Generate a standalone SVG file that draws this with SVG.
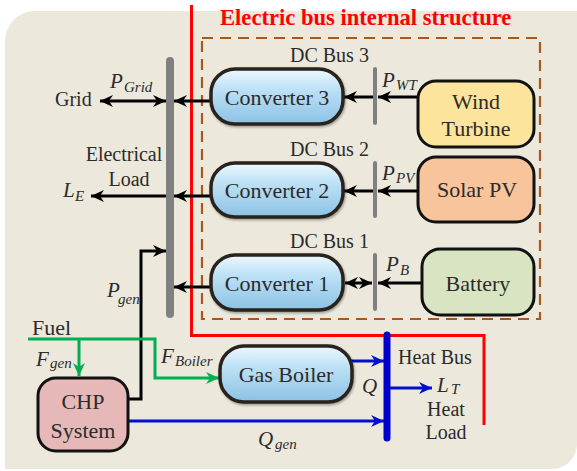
<svg xmlns="http://www.w3.org/2000/svg" width="577" height="471" viewBox="0 0 577 471" font-family="'Times New Roman', 'Liberation Serif', 'DejaVu Serif', serif">
<defs>
<style>
text{font-family:"Times New Roman","Liberation Serif","DejaVu Serif",serif;fill:#2b2b2b}
.lbl{font-size:22px}
.sm{font-size:20px}
.it{font-style:italic;font-size:21px}
.sub{font-style:italic;font-size:15px}
.box{stroke:#111;stroke-width:3}
.conv{fill:url(#blue);stroke:#2a211b;stroke-width:3.5;filter:url(#sh)}
.blk{stroke:#000;stroke-width:3;fill:none}
.grn{stroke:#00b050;stroke-width:3;fill:none}
.blu{stroke:#0010cc;stroke-width:3;fill:none}
</style>
<linearGradient id="blue" x1="0" y1="0" x2="0" y2="1">
<stop offset="0" stop-color="#eef8ff"/>
<stop offset="0.35" stop-color="#bfe2f6"/>
<stop offset="1" stop-color="#8cc2e4"/>
</linearGradient>
<filter id="sh" x="-10%" y="-20%" width="120%" height="140%">
<feDropShadow dx="1" dy="1.5" stdDeviation="1.2" flood-color="#000" flood-opacity="0.35"/>
</filter>
<marker id="ab" markerUnits="userSpaceOnUse" markerWidth="14" markerHeight="12" refX="13" refY="6" orient="auto-start-reverse"><path d="M0,0 L13,6 L0,12 L4,6 z" fill="#000"/></marker>
<marker id="ag" markerUnits="userSpaceOnUse" markerWidth="14" markerHeight="12" refX="13" refY="6" orient="auto"><path d="M0,0 L13,6 L0,12 L4,6 z" fill="#00b050"/></marker>
<marker id="au" markerUnits="userSpaceOnUse" markerWidth="14" markerHeight="12" refX="13" refY="6" orient="auto"><path d="M0,0 L13,6 L0,12 L4,6 z" fill="#0010cc"/></marker>
</defs>

<rect width="577" height="471" fill="#fff"/>
<path d="M5,41 A30,30 0 0 1 35,11 L577,11 L577,444 A25,25 0 0 1 552,469 L5,469 Z" fill="#ece8dc"/>

<g id="electric-bus-boundary">
<path d="M191.5,5 L191.5,335.5 L484,335.5 L484,425" fill="none" stroke="#ff0000" stroke-width="3"/>
<text x="220" y="25" font-size="22.6" font-weight="bold" style="fill:#ff0000">Electric bus internal structure</text>
</g>

<g id="dc-boundary">
<rect x="202" y="38" width="338" height="281" fill="none" stroke="#a5581f" stroke-width="2.2" stroke-dasharray="11,7"/>
</g>

<g id="connectors">
<line class="blk" x1="100" y1="101" x2="166" y2="101" marker-start="url(#ab)" marker-end="url(#ab)"/>
<line class="blk" x1="211" y1="101" x2="174" y2="101" marker-end="url(#ab)"/>
<line class="blk" x1="170" y1="196" x2="91" y2="196" marker-end="url(#ab)"/>
<line class="blk" x1="211" y1="196" x2="174" y2="196" marker-end="url(#ab)"/>
<line class="blk" x1="211" y1="287" x2="174" y2="287" marker-end="url(#ab)"/>
<path class="blk" d="M128,399 L141,399 L141,251 L166,251" marker-end="url(#ab)"/>
<line class="blk" x1="418" y1="97" x2="378" y2="97" marker-end="url(#ab)"/>
<line class="blk" x1="375" y1="97" x2="344" y2="97" marker-end="url(#ab)"/>
<line class="blk" x1="418" y1="191" x2="378" y2="191" marker-end="url(#ab)"/>
<line class="blk" x1="375" y1="191" x2="344" y2="191" marker-end="url(#ab)"/>
<line class="blk" x1="422" y1="283" x2="378" y2="283" marker-end="url(#ab)"/>
<line class="blk" x1="345" y1="283" x2="372" y2="283" marker-start="url(#ab)" marker-end="url(#ab)"/>
<path class="grn" d="M28,339 L155,339 L155,378 L219,378" marker-end="url(#ag)"/>
<line class="grn" x1="79" y1="339" x2="79" y2="376" marker-end="url(#ag)"/>
<line class="blu" x1="350" y1="361" x2="384" y2="361" marker-end="url(#au)"/>
<line class="blu" x1="128" y1="421" x2="384" y2="421" marker-end="url(#au)"/>
<line class="blu" x1="390" y1="388" x2="432" y2="388" marker-end="url(#au)"/>
</g>

<g id="ac-bus">
<line x1="170" y1="61" x2="170" y2="314" stroke="#808080" stroke-width="8" stroke-linecap="round"/>
</g>
<g id="dc-bus-3">
<line x1="375" y1="69" x2="375" y2="123" stroke="#808080" stroke-width="4" stroke-linecap="round"/>
<text class="sm" x="290" y="62">DC Bus 3</text>
</g>
<g id="dc-bus-2">
<line x1="375" y1="163" x2="375" y2="216" stroke="#808080" stroke-width="4" stroke-linecap="round"/>
<text class="sm" x="290" y="156">DC Bus 2</text>
</g>
<g id="dc-bus-1">
<line x1="375" y1="255" x2="375" y2="309" stroke="#808080" stroke-width="4" stroke-linecap="round"/>
<text class="sm" x="290" y="248">DC Bus 1</text>
</g>
<g id="heat-bus">
<line x1="387" y1="335" x2="387" y2="438" stroke="#0000cc" stroke-width="7" stroke-linecap="round"/>
<text class="sm" x="398" y="364">Heat Bus</text>
</g>

<g id="converter-3">
<rect class="conv" x="211" y="69" width="132" height="55" rx="24"/>
<text class="lbl" x="277" y="105" text-anchor="middle">Converter 3</text>
</g>
<g id="converter-2">
<rect class="conv" x="211" y="163" width="132" height="54" rx="24"/>
<text class="lbl" x="277" y="198" text-anchor="middle">Converter 2</text>
</g>
<g id="converter-1">
<rect class="conv" x="211" y="255" width="132" height="55" rx="24"/>
<text class="lbl" x="277" y="291" text-anchor="middle">Converter 1</text>
</g>
<g id="gas-boiler">
<rect class="conv" x="220" y="346" width="132" height="56" rx="24"/>
<text class="lbl" x="286" y="382" text-anchor="middle">Gas Boiler</text>
</g>

<g id="wind-turbine">
<rect class="box" x="418" y="81" width="116" height="66" rx="18" fill="#fde49c"/>
<text class="lbl" x="476" y="109" text-anchor="middle">Wind</text>
<text class="lbl" x="476" y="136" text-anchor="middle">Turbine</text>
</g>
<g id="solar-pv">
<rect class="box" x="418" y="157" width="116" height="65" rx="18" fill="#f8c49c"/>
<text class="lbl" x="477" y="197" text-anchor="middle">Solar PV</text>
</g>
<g id="battery">
<rect class="box" x="422" y="249" width="112" height="66" rx="18" fill="#d9e4c3"/>
<text class="lbl" x="478" y="291" text-anchor="middle">Battery</text>
</g>
<g id="chp-system">
<rect class="box" x="38" y="378" width="90" height="73" rx="18" fill="#e6b8b7"/>
<text class="lbl" x="83" y="409" text-anchor="middle">CHP</text>
<text class="lbl" x="83" y="438" text-anchor="middle">System</text>
</g>

<g id="grid">
<text class="sm" x="55" y="106">Grid</text>
</g>
<g id="electrical-load">
<text class="sm" x="124" y="161" text-anchor="middle">Electrical</text>
<text class="sm" x="129" y="186" text-anchor="middle">Load</text>
</g>
<g id="heat-load">
<text class="sm" x="446" y="416" text-anchor="middle">Heat</text>
<text class="sm" x="446" y="439" text-anchor="middle">Load</text>
</g>

<g id="labels">
<text class="it" x="110" y="88">P</text><text class="sub" x="124" y="92">Grid</text>
<text class="it" x="63" y="197">L</text><text class="sub" x="75" y="201">E</text>
<text class="it" x="382" y="87">P</text><text class="sub" x="396" y="90">WT</text>
<text class="it" x="382" y="180">P</text><text class="sub" x="396" y="183">PV</text>
<text class="it" x="386" y="271">P</text><text class="sub" x="400" y="275">B</text>
<text class="it" x="107" y="297">P</text><text class="sub" x="118" y="304">gen</text>
<text class="lbl" x="32" y="335">Fuel</text>
<text class="it" x="36" y="366">F</text><text class="sub" x="50" y="368">gen</text>
<text class="it" x="161" y="363">F</text><text class="sub" x="175" y="366">Boiler</text>
<text class="it" x="362" y="393">Q</text>
<text class="it" x="437" y="392">L</text><text class="sub" x="451" y="394" font-size="14">T</text>
<text class="it" x="258" y="446">Q</text><text class="sub" x="275" y="449">gen</text>
</g>
</svg>
